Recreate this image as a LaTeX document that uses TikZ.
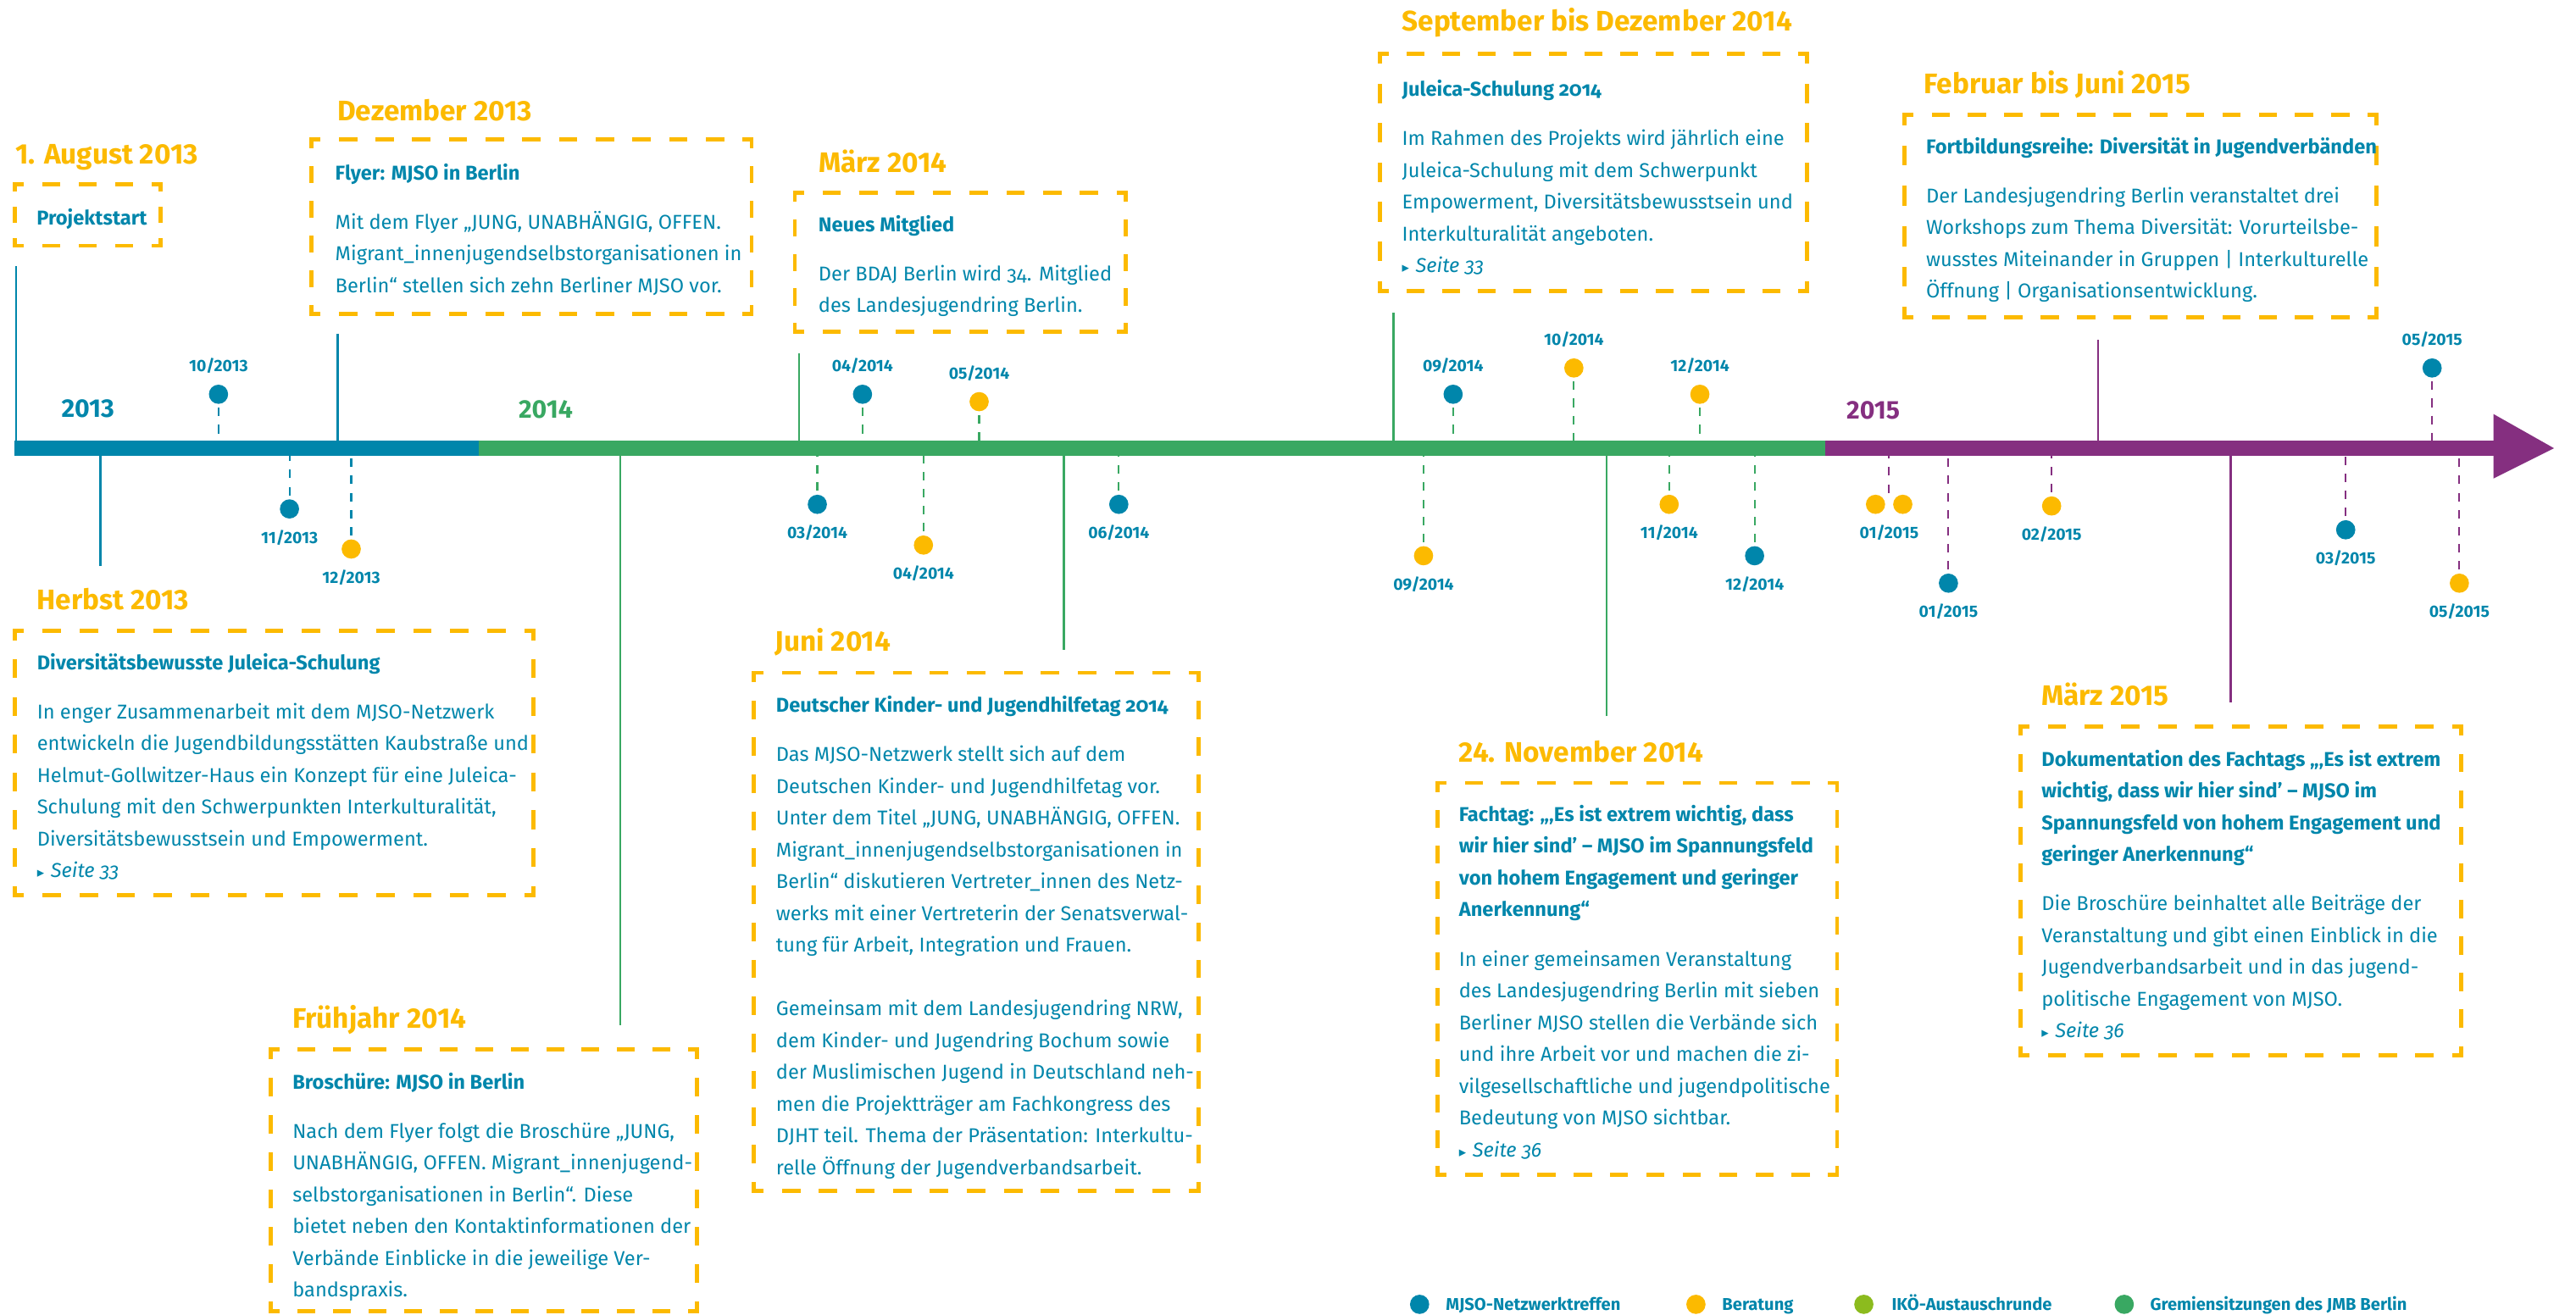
\documentclass[tikz,border=0pt]{standalone}
\usepackage{fontspec}
\setmainfont{Fira Sans}
\newfontfamily\symfont{DejaVu Sans}
\usetikzlibrary{positioning}

\definecolor{mjblue}{HTML}{0086AB}
\definecolor{mjgreen}{HTML}{39A862}
\definecolor{mjpurple}{HTML}{852F80}
\definecolor{mjorange}{HTML}{FCBA00}
\definecolor{mjlime}{HTML}{8CBB1E}

\tikzset{
	boxline/.style={mjorange,line width=1.25pt,line cap=rect},
	boxtext/.style={anchor=north west,inner sep=0pt,align=left,text=mjblue,
		font=\fontsize{6.1}{9.675}\selectfont\addfontfeatures{Numbers=OldStyle}},
	boxhead/.style={anchor=base west,inner sep=0pt,text=mjorange,font=\fontsize{8.6}{10}\selectfont\bfseries},
	yearlbl/.style={anchor=base west,inner sep=0pt,font=\fontsize{7.8}{9}\selectfont\bfseries},
	datelbl/.style={inner sep=0pt,text=mjblue,font=\fontsize{5}{6}\selectfont\bfseries},
	evdot/.style={circle,fill=#1,inner sep=0pt,minimum size=5.85pt},
	dropline/.style={#1,line width=0.55pt,dash pattern=on 2.6pt off 2.6pt,shorten <=1pt},
	stemline/.style={#1,line width=0.6pt},
	legtext/.style={anchor=base west,inner sep=0pt,text=mjblue,font=\fontsize{5.2}{6}\selectfont\bfseries},
}

% dashed box with half dashes in the corners: name, x1, y1, x2, y2
\newcommand{\evbox}[5]{%
	\coordinate (#1-nw) at (#2,#3);
	\coordinate (#1-se) at (#4,#5);
	\pgfmathsetmacro\pw{0.5*(#4-#2)/max(1,round((#4-#2)/22.4))}%
	\pgfmathsetmacro\ph{0.5*(#5-#3)/max(1,round((#5-#3)/22.4))}%
	\pgfmathsetmacro\won{\pw/2-1.25}\pgfmathsetmacro\woff{\pw/2+1.25}\pgfmathsetmacro\wph{\pw/4-0.625}%
	\pgfmathsetmacro\hon{\ph/2-1.25}\pgfmathsetmacro\hoff{\ph/2+1.25}\pgfmathsetmacro\hph{\ph/4-0.625}%
	\draw[boxline,dash pattern=on \won pt off \woff pt,dash phase=\wph pt] (#1-nw) -- (#1-nw -| #1-se);
	\draw[boxline,dash pattern=on \won pt off \woff pt,dash phase=\wph pt] (#1-se -| #1-nw) -- (#1-se);
	\draw[boxline,dash pattern=on \hon pt off \hoff pt,dash phase=\hph pt] (#1-nw) -- (#1-se -| #1-nw);
	\draw[boxline,dash pattern=on \hon pt off \hoff pt,dash phase=\hph pt] (#1-nw -| #1-se) -- (#1-se);
}
\newcommand{\seite}[1]{{\symfont\fontsize{4.3}{9.675}\selectfont ▸}\hspace{2pt}\textit{Seite #1}}

\begin{document}
\begin{tikzpicture}[x=0.5pt,y=-0.5pt]
	\useasboundingbox (0,0) rectangle (1568,800);

	% timeline
	\coordinate (bartop) at (0,268.2);
	\coordinate (barbot) at (0,277.5);
	\fill[mjblue] (8.9,268.2) rectangle (291.4,277.5);
	\fill[mjgreen] (291.4,268.2) rectangle (1110.8,277.5);
	\fill[mjpurple] (1110.8,268.2) rectangle (1518,277.5);
	\fill[mjpurple] (1517.7,252) -- (1554.6,272.85) -- (1517.7,291.3) -- cycle;

	\node[yearlbl,text=mjblue] (y13) at (37,254.1) {2013};
	\node[yearlbl,text=mjgreen] (y14) at (315.3,254.6) {2014};
	\node[yearlbl,text=mjpurple] (y15) at (1123.6,255) {2015};

	% events above the bar
	\foreach \x/\y/\c/\lc/\m/\yr [count=\i] in {133/240/mjblue/mjblue/10/2013,
		525/240/mjblue/mjgreen/04/2014, 596/244.5/mjorange/mjgreen/05/2014,
		884.5/240/mjblue/mjgreen/09/2014, 958/224/mjorange/mjgreen/10/2014,
		1034.7/240/mjorange/mjgreen/12/2014, 1480.4/224/mjblue/mjpurple/05/2015}{
		\node[evdot=\c] (up\i) at (\x,\y) {};
		\node[datelbl,above=3pt of up\i] {\m/\yr};
		\draw[dropline=\lc] (up\i.south) -- (up\i |- bartop);
	}
	% events below the bar
	\foreach \x/\y/\c/\lc/\m/\yr [count=\i] in {176.2/309.8/mjblue/mjblue/11/2013,
		213.8/334.2/mjorange/mjblue/12/2013, 497.5/307/mjblue/mjgreen/03/2014,
		562.1/331.8/mjorange/mjgreen/04/2014, 681/307/mjblue/mjgreen/06/2014,
		866.5/338.3/mjorange/mjgreen/09/2014, 1016/307/mjorange/mjgreen/11/2014,
		1068/338.3/mjblue/mjgreen/12/2014, 1186/355/mjblue/mjpurple/01/2015,
		1248.8/308/mjorange/mjpurple/02/2015, 1427.8/322.5/mjblue/mjpurple/03/2015,
		1497/355/mjorange/mjpurple/05/2015}{
		\node[evdot=\c] (dn\i) at (\x,\y) {};
		\node[datelbl,below=3pt of dn\i] {\m/\yr};
		\draw[dropline=\lc] (dn\i.north) -- (dn\i |- barbot);
	}
	\node[evdot=mjorange] (jan15a) at (1141.6,307) {};
	\node[evdot=mjorange] (jan15b) at (1158.2,307) {};
	\coordinate (jan15) at (1149.9,300);
	\draw[dropline=mjpurple,shorten <=0pt] (jan15) -- (jan15 |- barbot);
	\node[datelbl,below=3pt of jan15a.south -| jan15,anchor=north] {01/2015};

	% stems from the boxes to the bar
	\foreach \x/\y/\c [count=\i] in {9.8/162/mjblue, 205.5/203/mjblue, 486.4/215/mjgreen,
		848.2/190.5/mjgreen, 1277/207/mjpurple}{
		\coordinate (su\i) at (\x,\y);
		\draw[stemline=\c] (su\i) -- (su\i |- bartop);
	}
	\foreach \x/\y/\c [count=\i] in {61.2/344.6/mjblue, 377.5/624/mjgreen, 647.6/395.5/mjgreen,
		977.9/436/mjgreen, 1357.8/427.6/mjpurple}{
		\coordinate (sd\i) at (\x,\y);
		\draw[stemline=\c] (sd\i) -- (sd\i |- barbot);
	}

	% 1. August 2013
	\node[boxhead] (h-start) at (9,100) {1. August 2013};
	\evbox{start}{9}{112}{97.7}{149.6}
	\node[boxtext] (t-start) at (22,126.7) {\textbf{Projektstart}};

	% Dezember 2013
	\node[boxhead] (h-flyer) at (205,73.7) {Dezember 2013};
	\evbox{flyer}{189.5}{85}{457.5}{191}
	\node[boxtext] (t-flyer) at (203.7,99.2) {\textbf{Flyer: MJSO in Berlin}\\[5.3pt]
		Mit dem Flyer „JUNG, UNABHÄNGIG, OFFEN.\\
		Migrant\_innenjugendselbstorganisationen in\\
		Berlin“ stellen sich zehn Berliner MJSO vor.};

	% Herbst 2013
	\node[boxhead] (h-herbst) at (22,371) {Herbst 2013};
	\evbox{herbst}{8.9}{384}{324.8}{545}
	\node[boxtext] (t-herbst) at (22.2,397.3) {\textbf{Diversitätsbewusste Juleica-Schulung}\\[5.3pt]
		In enger Zusammenarbeit mit dem MJSO-Netzwerk\\
		entwickeln die Jugendbildungsstätten Kaubstraße und\\
		Helmut-Gollwitzer-Haus ein Konzept für eine Juleica-\\
		Schulung mit den Schwerpunkten Interkulturalität,\\
		Diversitätsbewusstsein und Empowerment.\\
		\seite{33}};

	% Frühjahr 2014
	\node[boxhead] (h-broschuere) at (177.7,626) {Frühjahr 2014};
	\evbox{broschuere}{165}{639}{424.3}{798}
	\node[boxtext] (t-broschuere) at (177.7,652.6) {\textbf{Broschüre: MJSO in Berlin}\\[5.3pt]
		Nach dem Flyer folgt die Broschüre „JUNG,\\
		UNABHÄNGIG, OFFEN. Migrant\_innenjugend-\\
		selbstorganisationen in Berlin“. Diese\\
		bietet neben den Kontaktinformationen der\\
		Verbände Einblicke in die jeweilige Ver-\\
		bandspraxis.};

	% März 2014
	\node[boxhead] (h-mitglied) at (498,105) {März 2014};
	\evbox{mitglied}{483.8}{117.5}{685.3}{202}
	\node[boxtext] (t-mitglied) at (497.8,130.7) {\textbf{Neues Mitglied}\\[5.3pt]
		Der BDAJ Berlin wird 34. Mitglied\\
		des Landesjugendring Berlin.};

	% Juni 2014
	\node[boxhead] (h-djht) at (471.4,396.5) {Juni 2014};
	\evbox{djht}{459}{409.5}{729.4}{725}
	\node[boxtext] (t-djht) at (472,423.3) {\textbf{Deutscher Kinder- und Jugendhilfetag 2014}\\[5.3pt]
		Das MJSO-Netzwerk stellt sich auf dem\\
		Deutschen Kinder- und Jugendhilfetag vor.\\
		Unter dem Titel „JUNG, UNABHÄNGIG, OFFEN.\\
		Migrant\_innenjugendselbstorganisationen in\\
		Berlin“ diskutieren Vertreter\_innen des Netz-\\
		werks mit einer Vertreterin der Senatsverwal-\\
		tung für Arbeit, Integration und Frauen.\\[9.675pt]
		Gemeinsam mit dem Landesjugendring NRW,\\
		dem Kinder- und Jugendring Bochum sowie\\
		der Muslimischen Jugend in Deutschland neh-\\
		men die Projektträger am Fachkongress des\\
		DJHT teil. Thema der Präsentation: Interkultu-\\
		relle Öffnung der Jugendverbandsarbeit.};

	% September bis Dezember 2014
	\node[boxhead] (h-juleica) at (853,19) {September bis Dezember 2014};
	\evbox{juleica}{840}{32.8}{1099.7}{177}
	\node[boxtext] (t-juleica) at (853,48.2) {\textbf{Juleica-Schulung 2014}\\[5.3pt]
		Im Rahmen des Projekts wird jährlich eine\\
		Juleica-Schulung mit dem Schwerpunkt\\
		Empowerment, Diversitätsbewusstsein und\\
		Interkulturalität angeboten.\\
		\seite{33}};

	% 24. November 2014
	\node[boxhead] (h-fachtag) at (887.7,464) {24. November 2014};
	\evbox{fachtag}{875}{476.6}{1118.2}{715}
	\node[boxtext] (t-fachtag) at (887.7,489.7) {\textbf{Fachtag: „‚Es ist extrem wichtig, dass}\\
		\textbf{wir hier sind’ – MJSO im Spannungsfeld}\\
		\textbf{von hohem Engagement und geringer}\\
		\textbf{Anerkennung“}\\[5.3pt]
		In einer gemeinsamen Veranstaltung\\
		des Landesjugendring Berlin mit sieben\\
		Berliner MJSO stellen die Verbände sich\\
		und ihre Arbeit vor und machen die zi-\\
		vilgesellschaftliche und jugendpolitische\\
		Bedeutung von MJSO sichtbar.\\
		\seite{36}};

	% Februar bis Juni 2015
	\node[boxhead] (h-fortbildung) at (1170.8,57) {Februar bis Juni 2015};
	\evbox{fortbildung}{1159.2}{70}{1446.7}{193}
	\node[boxtext] (t-fortbildung) at (1172,83.2) {\textbf{Fortbildungsreihe: Diversität in Jugendverbänden}\\[5.3pt]
		Der Landesjugendring Berlin veranstaltet drei\\
		Workshops zum Thema Diversität: Vorurteilsbe-\\
		wusstes Miteinander in Gruppen | Interkulturelle\\
		Öffnung | Organisationsentwicklung.};

	% März 2015
	\node[boxhead] (h-doku) at (1242.3,429.6) {März 2015};
	\evbox{doku}{1229.7}{442.2}{1498.2}{642.3}
	\node[boxtext] (t-doku) at (1242.3,456.1) {\textbf{Dokumentation des Fachtags „‚Es ist extrem}\\
		\textbf{wichtig, dass wir hier sind’ – MJSO im}\\
		\textbf{Spannungsfeld von hohem Engagement und}\\
		\textbf{geringer Anerkennung“}\\[5.3pt]
		Die Broschüre beinhaltet alle Beiträge der\\
		Veranstaltung und gibt einen Einblick in die\\
		Jugendverbandsarbeit und in das jugend-\\
		politische Engagement von MJSO.\\
		\seite{36}};

	% legend
	\node[evdot=mjblue] (l1) at (864.1,794) {};
	\node[legtext] (lt1) at (879.7,797.8) {MJSO-Netzwerktreffen};
	\node[evdot=mjorange] (l2) at (1032.3,794) {};
	\node[legtext] (lt2) at (1047.9,797.8) {Beratung};
	\node[evdot=mjlime] (l3) at (1134.5,794) {};
	\node[legtext] (lt3) at (1151.1,797.8) {IKÖ-Austauschrunde};
	\node[evdot=mjgreen] (l4) at (1293,794) {};
	\node[legtext] (lt4) at (1308.4,797.8) {Gremiensitzungen des JMB Berlin};
\end{tikzpicture}
\end{document}
